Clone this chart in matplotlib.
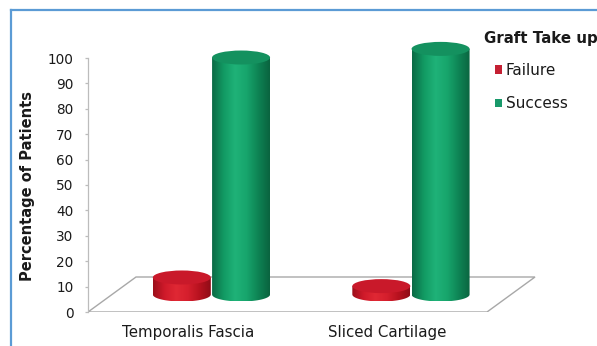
import matplotlib
matplotlib.use("Agg")
import matplotlib.pyplot as plt
import numpy as np
from matplotlib.patches import Ellipse, Polygon, PathPatch, Patch
from matplotlib.path import Path
from matplotlib.colors import LinearSegmentedColormap
from matplotlib.lines import Line2D

# --- data -------------------------------------------------------------
categories = ["Temporalis Fascia", "Sliced Cartilage"]
series_names = ["Failure", "Success"]
failure = [6.7, 3.3]
success = [93.3, 96.7]
yticks = list(range(0, 101, 10))
legend_title = "Graft Take up"
ylabel = "Percentage of Patients"

# --- styling ------------------------------------------------------------
plt.rcParams["font.family"] = ["DejaVu Sans"]
TEXT = "#1a1a1a"
AXIS_GREY = "#bcbcbc"
green_cmap = LinearSegmentedColormap.from_list(
    "g", ["#0b6a45", "#129a63", "#1fb278", "#17a56c", "#0e8354", "#0a633f"])
red_cmap = LinearSegmentedColormap.from_list(
    "r", ["#9c0f1b", "#cf1a2a", "#e02834", "#d51f2d", "#b8121f", "#8f0c17"])
green_top = "#14915f"
red_top = "#c9192a"

W, H = 597, 346
fig = plt.figure(figsize=(W / 100, H / 100), dpi=100)
fig.patch.set_facecolor("white")

# plot box (pixels): the front plane of the 3-D floor starts at x0 / ybot
x0, x1, ytop, ybot = 88, 545, 30, 312
ax = fig.add_axes([x0 / W, 1 - ybot / H, (x1 - x0) / W, (ybot - ytop) / H])
px_per_cat = 199.5
px_per_pct = 2.54
xlim = (-0.5, -0.5 + (x1 - x0) / px_per_cat)
ylim = (0, (ybot - ytop) / px_per_pct)
for name, s in ax.spines.items():
    s.set_visible(name == "left")
ax.spines["left"].set_color(AXIS_GREY)
ax.spines["left"].set_linewidth(0.9)
ax.spines["left"].set_bounds(0, 100)
ax.patch.set_alpha(0)

# oblique depth of the floor
DX = 48 / px_per_cat
DY = 35 / px_per_pct
n = len(categories)

# floor parallelogram
floor = Polygon([(-0.5, 0), (n - 0.5, 0), (n - 0.5 + DX, DY), (-0.5 + DX, DY)],
                closed=True, facecolor="white", edgecolor="#a8a8a8",
                linewidth=1.0, zorder=1)
ax.add_patch(floor)

R = 29 / px_per_cat      # cylinder radius (x units)
B = 7 / px_per_pct       # ellipse half height (y units)
offsets = [-0.15, 0.147]


def cylinder(cx, base, value, cmap, top_color, z):
    top = base + value
    t = np.linspace(np.pi, 2 * np.pi, 40)
    arc = np.column_stack([cx + R * np.cos(t), base + B * np.sin(t)])
    verts = np.vstack([[cx - R, top], arc, [cx + R, top], [cx - R, top]])
    body = PathPatch(Path(verts, closed=True), facecolor="none",
                     edgecolor="none", zorder=z)
    ax.add_patch(body)
    grad = np.linspace(0, 1, 200).reshape(1, -1)
    im = ax.imshow(grad, cmap=cmap, aspect="auto", interpolation="bicubic",
                   extent=(cx - R, cx + R, base - B, top + B), zorder=z)
    im.set_clip_path(body)
    ax.add_patch(Ellipse((cx, top), 2 * R, 2 * B, facecolor=top_color,
                         edgecolor="none", zorder=z + 0.1))


series = [(failure, red_cmap, red_top), (success, green_cmap, green_top)]
for i in range(n):
    cx_mid = i + DX / 2
    for k, (vals, cmap, tc) in enumerate(series):
        cylinder(cx_mid + offsets[k], DY / 2, vals[i], cmap, tc, 2 + k)

ax.set_xlim(*xlim)
ax.set_ylim(*ylim)

ax.set_yticks(yticks)
ax.set_yticklabels([str(v) for v in yticks])
ax.set_xticks(range(n))
ax.set_xticklabels(categories)
ax.tick_params(axis="y", direction="out", length=2.4, width=0.9,
               color=AXIS_GREY, pad=8, labelsize=9.8, labelcolor=TEXT)
ax.tick_params(axis="x", length=0, pad=9.5, labelsize=10.8, labelcolor=TEXT)

fig.text(28 / W, 1 - 186 / H, ylabel, rotation=90, ha="center", va="center",
         fontsize=10.5, fontweight="bold", color=TEXT)

# legend
fig.text(484 / W, 1 - 38 / H, legend_title, ha="left", va="center",
         fontsize=10.8, fontweight="bold", color=TEXT)
handles = [Patch(facecolor="#c42033", edgecolor="none"),
           Patch(facecolor="#18996a", edgecolor="none")]
fig.legend(handles, series_names, loc="upper left",
           bbox_to_anchor=(495 / W, 1 - 63 / H), frameon=False,
           fontsize=11, handlelength=0.45, handleheight=0.45,
           handletextpad=0.25, labelspacing=1.2, borderpad=0,
           borderaxespad=0, labelcolor=TEXT)

# outer frame (left and top edges)
fig.add_artist(Line2D([11 / W, 11 / W], [0, 1 - 10 / H], color="#5b9bd5",
                      linewidth=1.6, transform=fig.transFigure))
fig.add_artist(Line2D([11 / W, 1], [1 - 10 / H, 1 - 10 / H], color="#5b9bd5",
                      linewidth=1.6, transform=fig.transFigure))

fig.savefig("out.png", dpi=100)
